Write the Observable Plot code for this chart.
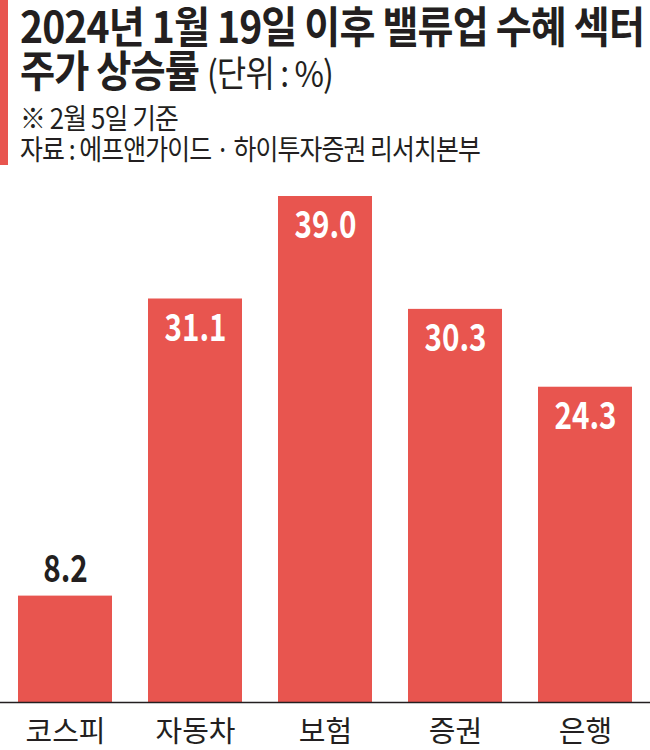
<!DOCTYPE html>
<html>
<head>
<meta charset="utf-8">
<script src="https://cdn.jsdelivr.net/npm/d3@7"></script>
<script src="https://cdn.jsdelivr.net/npm/@observablehq/plot@0.6"></script>
<style>
  html, body { margin: 0; padding: 0; background: #fff; }
  body { width: 650px; height: 750px; overflow: hidden; font-family: "Noto Sans CJK KR", "Noto Sans", sans-serif; }
  #header { position: relative; width: 650px; height: 175px; }
  #accent { position: absolute; left: 0; top: 0; width: 8px; height: 165px; background: #E8554F; }
  .line { position: absolute; left: 20px; white-space: nowrap; line-height: 1; transform-origin: left center; color: #231f20; }
  #t1 { top: 3px; font-size: 43px; font-weight: 700; letter-spacing: -1px; }
  #t2 { top: 47px; font-size: 43px; font-weight: 700; letter-spacing: -1px; }
  #t2 span { font-weight: 400; font-size: 36px; letter-spacing: -1px; }
  #t3 { top: 103px; font-size: 28px; font-weight: 400; letter-spacing: -1px; }
  #t4 { top: 134px; font-size: 28px; font-weight: 400; letter-spacing: -1px; }
  #chart svg { display: block; }
</style>
</head>
<body>
<div id="header">
  <div id="accent"></div>
  <div class="line" id="t1">2024년 1월 19일 이후 밸류업 수혜 섹터</div>
  <div class="line" id="t2">주가 상승률 <span>(단위 : %)</span></div>
  <div class="line" id="t3">※ 2월 5일 기준</div>
  <div class="line" id="t4">자료 : 에프앤가이드 · 하이투자증권 리서치본부</div>
</div>
<div id="chart"></div>
<script>
const categories = ["코스피", "자동차", "보험", "증권", "은행"];
const values = [8.2, 31.1, 39.0, 30.3, 24.3];

const data = categories.map((c, i) => ({category: c, value: values[i]}));
const barColor = "#E8554F";

// fit header lines to the reference widths (condensed look)
const targets = {t1: 624, t2: 313, t3: 158, t4: 460};
for (const [id, w] of Object.entries(targets)) {
  const el = document.getElementById(id);
  const r = el.getBoundingClientRect();
  el.style.transform = `scaleX(${w / r.width})`;
}

const chart = Plot.plot({
  width: 650,
  height: 575,
  marginTop: 21,
  marginBottom: 48,
  marginLeft: 0,
  marginRight: 0,
  style: {fontFamily: "'Noto Sans CJK KR', sans-serif", background: "#fff"},
  x: {domain: categories, paddingInner: 0.277, paddingOuter: 0.138, label: null, axis: null},
  y: {domain: [0, 39], axis: null},
  marks: [
    Plot.barY(data, {x: "category", y: "value", fill: barColor}),
    Plot.ruleY([0], {stroke: "#231f20", strokeWidth: 1.5}),
    Plot.text(data.filter(d => d.value > 20), {
      x: "category", y: "value", text: d => d.value.toFixed(1),
      dy: 30, fill: "white", fontSize: 37, fontWeight: 700, lineAnchor: "middle",
      className: "num"
    }),
    Plot.text(data.filter(d => d.value <= 20), {
      x: "category", y: "value", text: d => d.value.toFixed(1),
      dy: -26, fill: "#231f20", fontSize: 37, fontWeight: 700, lineAnchor: "middle",
      className: "num"
    }),
    Plot.text(data, {
      x: "category", y: 0, text: "category",
      dy: 30, fill: "#231f20", fontSize: 29, fontWeight: 400, lineAnchor: "middle"
    })
  ]
});
document.getElementById("chart").appendChild(chart);

// condense the value labels like the reference's narrow typeface
chart.querySelectorAll("text").forEach(t => {
  if (/^[0-9.]+$/.test(t.textContent)) {
    const w = t.getComputedTextLength();
    t.setAttribute("textLength", (w * 0.8).toFixed(1));
    t.setAttribute("lengthAdjust", "spacingAndGlyphs");
  }
});
</script>
</body>
</html>
